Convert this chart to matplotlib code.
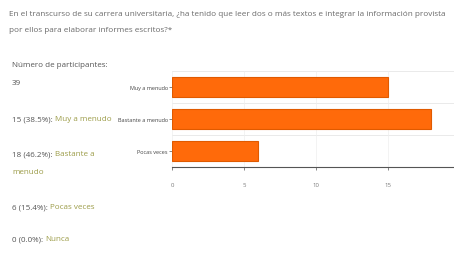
import matplotlib

matplotlib.use("Agg")
import matplotlib.pyplot as plt

question = ("En el transcurso de su carrera universitaria, ¿ha tenido que leer dos o más textos e integrar la información provista",
            "por ellos para elaborar informes escritos?*")
total = 39
answers = ["Muy a menudo", "Bastante a menudo", "Pocas veces", "Nunca"]
counts = [15, 18, 6, 0]
percents = [38.5, 46.2, 15.4, 0.0]
bar_labels = ["Muy a menudo", "Bastante a menudo", "Pocas veces"]
bar_counts = [15, 18, 6]
xticks = [0, 5, 10, 15]

W, H = 454, 255
fig = plt.figure(figsize=(W / 100, H / 100), dpi=100)
plt.rcParams["font.family"] = ["Open Sans", "DejaVu Sans"]


def fx(px):
    return px / W


def fy(py):
    return 1 - py / H


grey = "#6a6a6a"
dark = "#555555"
olive = "#9c9c48"
fs = 5.8

fig.text(fx(9), fy(15), question[0], fontsize=5.9, color=grey, va="center")
fig.text(fx(9), fy(30), question[1], fontsize=5.9, color=grey, va="center")
fig.text(fx(12), fy(66), "Número de participantes:", fontsize=fs, color=dark, va="center")
fig.text(fx(12), fy(84), str(total), fontsize=fs, color=dark, va="center")

rows = [(120, None), (155, 172), (208, None), (240, None)]
for (y, y2), ans, n, p in zip(rows, answers, counts, percents):
    t = fig.text(fx(12), fy(y), f"{n} ({p:.1f}%): ", fontsize=fs, color=dark, va="center")
    fig.canvas.draw()
    x0 = t.get_window_extent().x1
    if y2 is None:
        fig.text(x0 / W, fy(y), ans, fontsize=fs, color=olive, va="center")
    else:
        first, second = ans.rsplit(" ", 1)
        fig.text(x0 / W, fy(y), first, fontsize=fs, color=olive, va="center")
        fig.text(fx(12), fy(y2), second, fontsize=fs, color=olive, va="center")

# chart area: x 172..right edge, y 72..168
left, right, top, bottom = 172, 454, 72, 168
ax = fig.add_axes([fx(left), fy(bottom), fx(right - left), (bottom - top) / H])
ypos = list(range(len(bar_labels)))
ax.barh(ypos, bar_counts, height=0.6, color="#ff6a0a", edgecolor="#e05a00", linewidth=0.8, zorder=3)
ax.set_ylim(len(bar_labels) - 0.5, -0.5)
ax.set_xlim(0, (right - left) / 72 * 5)
ax.set_yticks(ypos, bar_labels, fontsize=4.0, color="#444444")
ax.set_xticks(xticks, [str(v) for v in xticks], fontsize=4.3, color="#777777")
for b in [-0.5, 0.5, 1.5]:
    ax.axhline(b, color="#e6e6e6", lw=0.6, zorder=1)
ax.grid(True, axis="x", color="#eeeeee", lw=0.5, zorder=0)
for s in ["top", "right", "left"]:
    ax.spines[s].set_visible(False)
ax.spines["bottom"].set_color("#555555")
ax.spines["bottom"].set_linewidth(0.8)
ax.tick_params(axis="y", length=2, width=0.5, color="#555555", pad=1)
ax.tick_params(axis="x", length=2, width=0.5, color="#555555", pad=9)

fig.savefig("out.png", dpi=100)
